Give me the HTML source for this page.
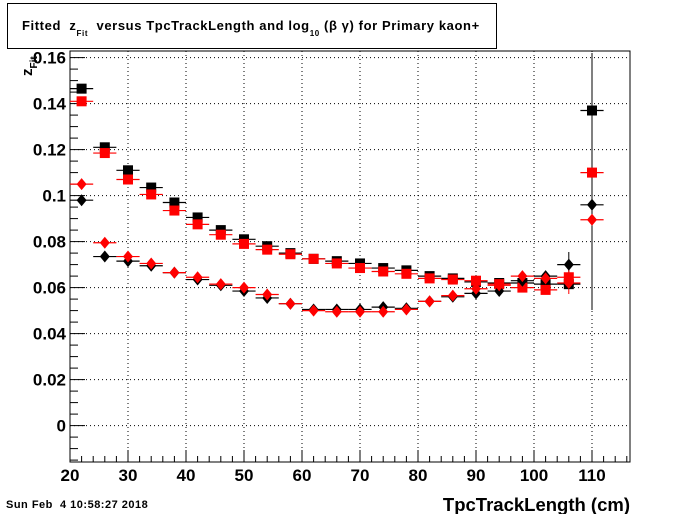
<!DOCTYPE html>
<html><head><meta charset="utf-8"><style>
body{margin:0;background:#fff;}
svg{display:block;font-family:"Liberation Sans",sans-serif;}
</style></head><body>
<svg id="c" width="700" height="514">
<rect x="0" y="0" width="700" height="514" fill="#fff"/>
<g>
<rect x="7.5" y="3.5" width="489" height="45" fill="#fff" stroke="#000" stroke-width="1"/>
<text x="22" y="30" font-size="13" font-weight="bold" letter-spacing="0.6" style="white-space:pre">Fitted  z<tspan font-size="8" dy="6">Fit</tspan><tspan dy="-6">  versus TpcTrackLength and log</tspan><tspan font-size="8" dy="6">10</tspan><tspan dy="-6"> (β γ) for Primary kaon+</tspan></text>
</g>
<g id="grid"></g>
<g id="axes"></g>
<g id="marks"></g>
<text x="630" y="511" font-size="18.5" font-weight="bold" text-anchor="end">TpcTrackLength (cm)</text>
<text transform="translate(32,76) rotate(-90)" font-size="15" font-weight="bold">z<tspan font-size="10" dy="5">Fit</tspan></text>
<text x="6" y="508" font-size="11" font-weight="bold" letter-spacing="0.5" style="white-space:pre">Sun Feb  4 10:58:27 2018</text>
</svg>
<script>
const xs=[22,26,30,34,38,42,46,50,54,58,62,66,70,74,78,82,86,90,94,98,102,106,110];
const blackSquare=[0.1465,0.121,0.111,0.1035,0.097,0.0905,0.085,0.081,0.078,0.075,0.0725,0.0715,0.0705,0.0685,0.0675,0.065,0.064,0.0625,0.062,0.062,0.0615,0.0615,0.137];
const redSquare=[0.141,0.1185,0.107,0.1005,0.0935,0.0875,0.083,0.079,0.0765,0.0745,0.0725,0.0705,0.0685,0.067,0.066,0.064,0.0635,0.063,0.0615,0.060,0.059,0.0645,0.110];
const blackDiamond=[0.098,0.0735,0.0715,0.0695,0.0665,0.0635,0.061,0.0585,0.0555,0.053,0.0505,0.0505,0.0505,0.0515,0.051,0.054,0.056,0.0575,0.0585,0.063,0.065,0.070,0.096];
const redDiamond=[0.105,0.0795,0.0735,0.0705,0.0665,0.0645,0.0615,0.060,0.057,0.053,0.050,0.0495,0.0495,0.0495,0.0505,0.054,0.0565,0.0595,0.061,0.065,0.064,0.062,0.0895];
const xTicks=[20,30,40,50,60,70,80,90,100,110];
const yTicks=[0,0.02,0.04,0.06,0.08,0.1,0.12,0.14,0.16];
const yTickLabels=["0","0.02","0.04","0.06","0.08","0.1","0.12","0.14","0.16"];
const L=70,R=630,T=51,B=462;
const X=v=>L+(v-20)*5.8;
const Y=v=>425.6-v*2300;
const NS='http://www.w3.org/2000/svg';
function mk(p,tag,a){const e=document.createElementNS(NS,tag);for(const k in a)e.setAttribute(k,a[k]);p.appendChild(e);return e;}
const grid=document.getElementById('grid'),axes=document.getElementById('axes'),marks=document.getElementById('marks');
xTicks.forEach(t=>{if(t>20){const l=mk(grid,'line',{x1:X(t),x2:X(t),y1:T,y2:B,stroke:'#000','stroke-width':1,'stroke-dasharray':'1,3'});

}});
yTicks.forEach(t=>{const l=mk(grid,'line',{x1:L,x2:R,y1:Y(t),y2:Y(t),stroke:'#000','stroke-width':1,'stroke-dasharray':'1,3'});

});
const fr=mk(axes,'rect',{x:L,y:T,width:R-L,height:B-T,fill:'none',stroke:'#000','stroke-width':1});


for(let v=20;v<=116;v+=2){const maj=(v%10===0);mk(axes,'line',{x1:X(v),x2:X(v),y1:B,y2:B-(maj?12:6),stroke:'#000'});}
for(let v=-0.015;v<=0.1635;v+=0.005){const r=Math.round(v*1000);const maj=(r%20===0);mk(axes,'line',{x1:L,x2:L+(maj?15:8),y1:Y(v),y2:Y(v),stroke:'#000'});}
xTicks.forEach(t=>{const e=mk(axes,'text',{x:X(t),y:481,'font-size':17,'font-weight':'bold','text-anchor':'middle'});e.textContent=t;

});
yTicks.forEach((t,i)=>{const e=mk(axes,'text',{x:66,y:Y(t)+6,'font-size':17,'font-weight':'bold','text-anchor':'end'});e.textContent=yTickLabels[i];

});
function series(vals,color,shape,name){
 const g=mk(marks,'g',{});
 
 
 vals.forEach((v,i)=>{const cx=X(xs[i]),cy=Y(v);
  mk(g,'line',{x1:X(xs[i]-2),x2:X(xs[i]+2),y1:cy,y2:cy,stroke:color,'stroke-width':1.2});
  let m;
  if(shape==='s')m=mk(g,'rect',{x:cx-5,y:cy-5,width:10,height:10,fill:color});
  else m=mk(g,'polygon',{points:`${cx},${cy-6} ${cx+5},${cy} ${cx},${cy+6} ${cx-5},${cy}`,fill:color});
  
  
 });
}
mk(marks,'line',{x1:X(110),x2:X(110),y1:70,y2:290,stroke:'#f00','stroke-width':1});
mk(marks,'line',{x1:X(110),x2:X(110),y1:T+2,y2:310,stroke:'#000','stroke-width':1});
mk(marks,'line',{x1:X(106),x2:X(106),y1:252,y2:288,stroke:'#000','stroke-width':1});
mk(marks,'line',{x1:X(106),x2:X(106),y1:268,y2:294,stroke:'#f00','stroke-width':1});
series(blackSquare,'#000','s','black-square-series');
series(redSquare,'#f00','s','red-square-series');
series(blackDiamond,'#000','d','black-diamond-series');
series(redDiamond,'#f00','d','red-diamond-series');
</script>
</body></html>
